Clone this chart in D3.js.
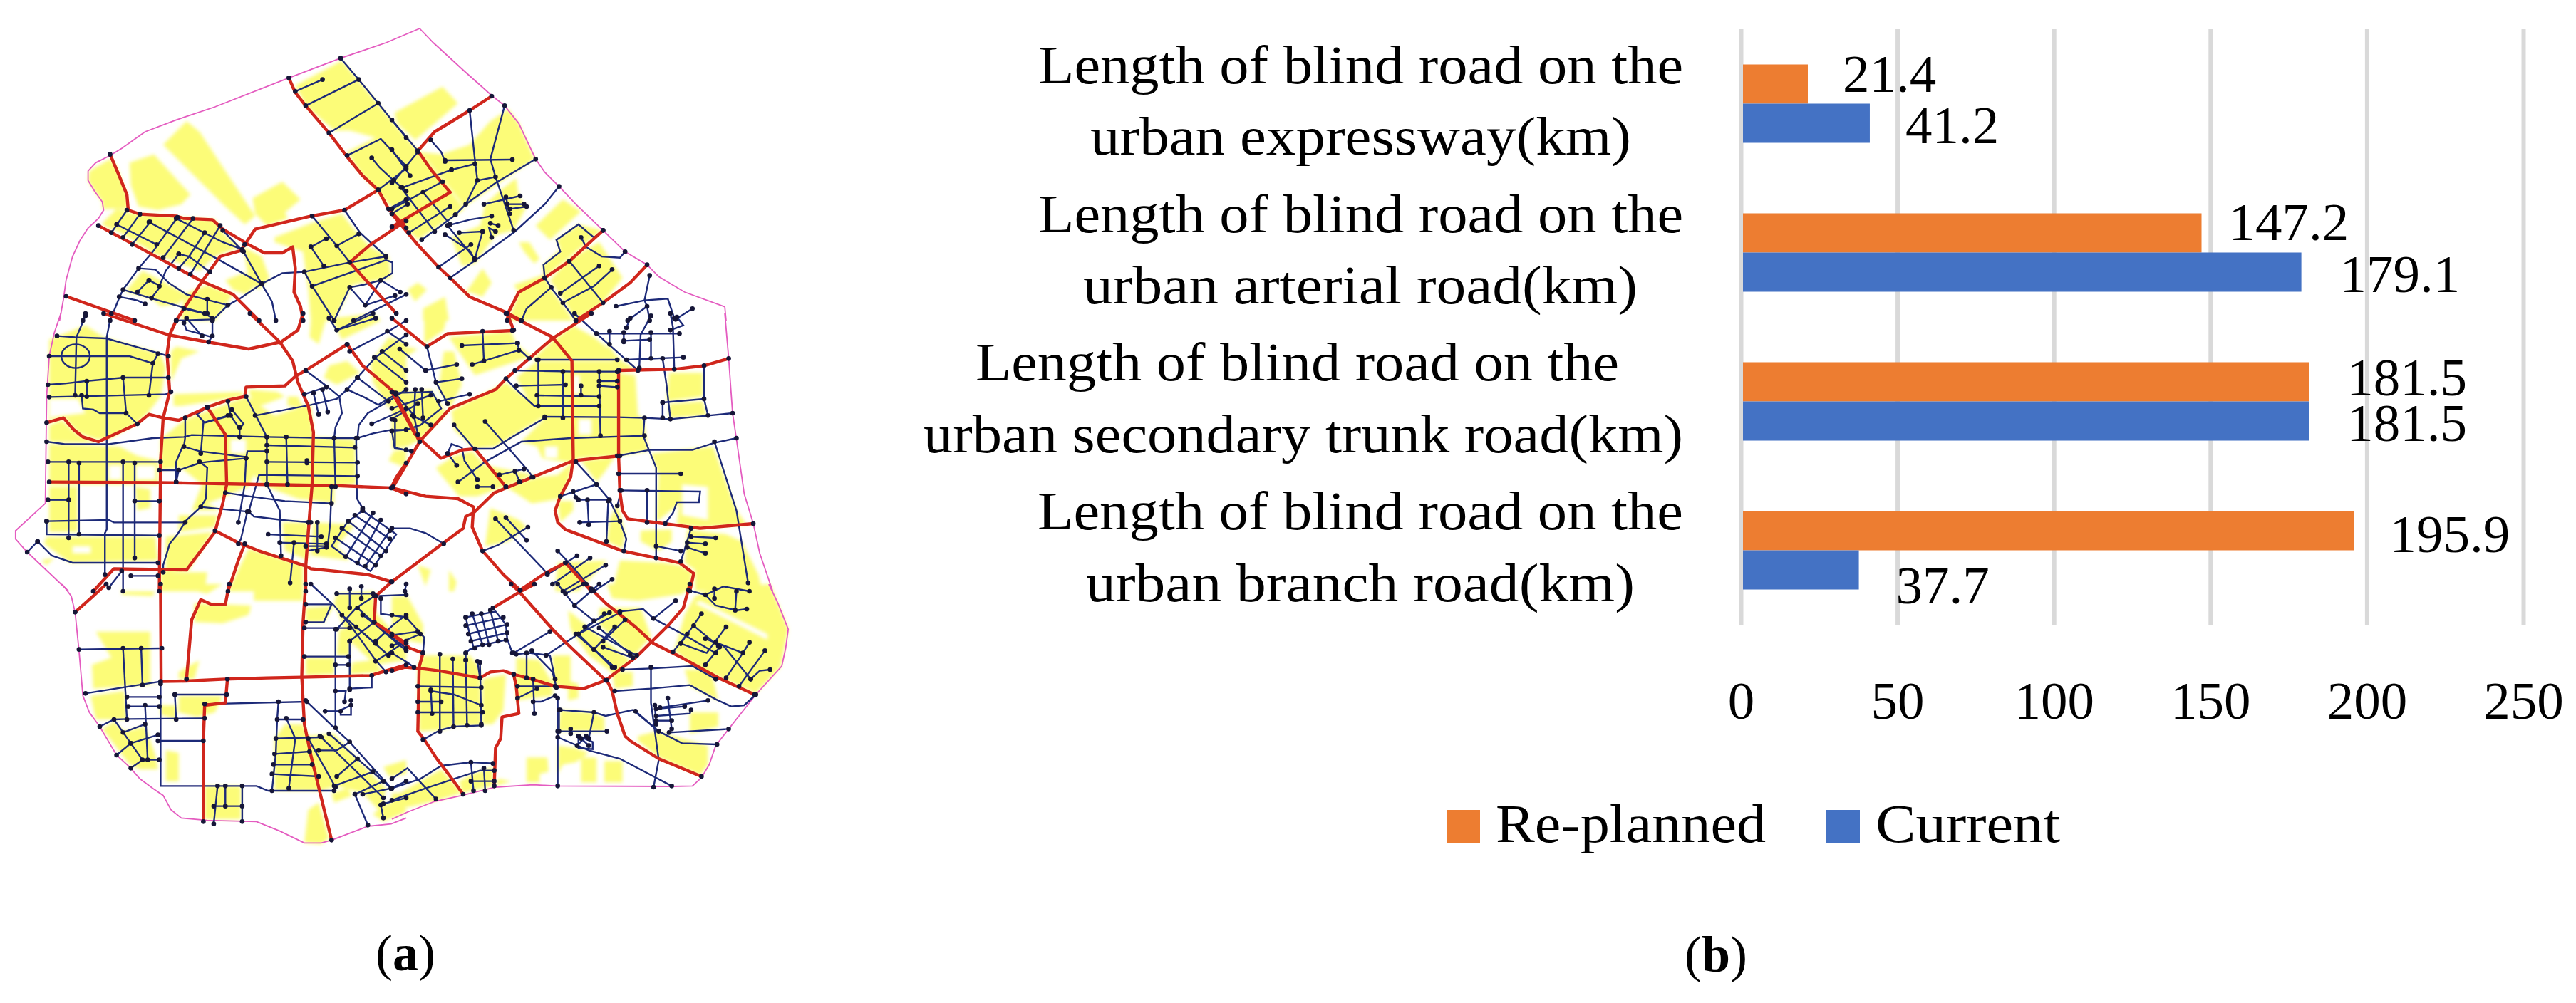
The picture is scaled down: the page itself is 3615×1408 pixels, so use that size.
<!DOCTYPE html>
<html>
<head>
<meta charset="utf-8">
<script src="https://cdn.jsdelivr.net/npm/d3@7"></script>
<style>
  html, body { margin: 0; background: #fff; }
  text { font-family: "Liberation Serif", serif; fill: #000; }
</style>
</head>
<body>
<div id="chart"></div>
<script>
// ---- panel (b) values ----
const categories = ['expressway', 'arterial', 'secondary', 'branch'];
const categoryLines = [
    ['Length of blind road on the', 'urban expressway(km)'],
    ['Length of blind road on the', 'urban arterial road(km)'],
    ['Length of blind road on the', 'urban secondary trunk road(km)'],
    ['Length of blind road on the', 'urban branch road(km)']
];
const seriesNames = ['Re-planned', 'Current'];
const seriesColors = ['#ED7D31', '#4472C4'];
const replanned = [21.4, 147.2, 181.5, 195.9];
const current = [41.2, 179.1, 181.5, 37.7];
const xTicks = [0, 50, 100, 150, 200, 250];

// ---- panel (a) map, traced per crop sheet: 570x390 px of the picture = 1568x1170 sheet units ----
const nwBoundary = ['1620,-60 1490,0 1315,65 1115,148 830,270 680,325 560,375 470,445 425,475 370,505 340,540 340,580 365,625 395,670 400,705 380,740 340,780 310,830 280,900 255,1000 245,1080 230,1170'];
const nwYellow = [
    '345,540 425,490 450,520 490,640 495,700 395,700 395,670 365,625 340,580',
    '395,760 450,700 490,710 440,790 400,770',
    '500,505 595,470 735,640 700,680 610,705 535,690 505,600',
    '630,430 720,330 770,375 985,730 945,765 870,690',
    '975,655 1090,585 1160,660 1100,715 1110,740 1030,770 985,720',
    '420,770 490,715 690,735 830,745 860,800 925,860 830,900 770,960 600,890',
    '940,860 1010,900 1040,990 1000,1040 960,1000',
    '870,1000 940,970 1000,1010 950,1060 900,1040',
    '490,1040 550,960 620,1000 720,1060 690,1100 620,1110 590,1080 490,1050',
    '710,1060 800,1020 900,1060 830,1170 700,1170',
    '1060,820 1200,760 1320,720 1370,790 1430,860 1500,900 1510,990 1360,1020 1290,1170 1200,1170 1190,1040 1170,880 1060,840',
    '1140,180 1320,75 1568,400 1568,760 1450,620 1380,530 1340,460 1450,400 1350,370 1290,370 1180,265'
];
const nwRed = [
    '425,470 460,560 490,640 495,705 540,722 680,730 710,740 820,745 860,785 960,850 1020,885 1090,885 1130,860 1140,950 1135,1050 1160,1110 1170,1170',
    '380,770 610,905 780,1005 900,1060 1000,1170',
    '1115,148 1140,210 1180,265 1270,380 1340,480 1400,560 1460,620 1500,700 1568,780',
    '945,850 985,785 1200,730 1330,705 1460,620',
    '945,850 930,875 850,900 780,1005 710,1120 680,1170',
    '255,1068 520,1170',
    '1568,750 1430,850 1350,925 1530,1140'
];
const nwBlue = [
    '1140,205 1245,155', '1180,265 1385,155', '1270,380 1460,255', '1315,65 1385,155 1460,255 1568,400',
    '1340,475 1470,405 1568,520', '1435,485 1465,525 1520,580', '1460,620 1568,530', '1500,700 1568,660', '1520,580 1568,625',
    '490,705 430,800', '540,722 475,820', '580,755 510,850', '450,765 605,850', '575,755 830,905 1010,1015',
    '680,740 860,840 935,870', '685,735 590,880 535,950 475,1040 460,1075 425,1170', '745,740 630,905',
    '790,800 730,900 690,950', '850,770 735,975', '860,790 935,875', '690,890 640,960 615,1025',
    '535,950 600,955 650,1010 720,1060 880,1105', '690,890 730,900 810,965', '475,1040 580,1075 790,1140',
    '460,1070 530,1085 560,1100', '575,1000 620,1025 585,1075', '575,1000 530,1050', '1010,1015 940,880',
    '1010,1015 1050,1090 1065,1170', '1010,1015 930,1075 880,1105 820,1170',
    '1010,1015 1090,970 1175,965 1350,925 1490,900', '1175,965 1205,1025 1290,1170',
    '1205,1025 1490,915 1515,925 1515,970 1470,1000', '1200,860 1250,940', '1200,860 1260,825',
    '1205,730 1300,855 1350,925', '1330,705 1390,800 1490,900', '1300,855 1385,805',
    '1290,1170 1350,1030 1410,1105 1470,1000 1545,1050', '1350,1030 1400,1020 1470,1000', '1410,1105 1525,1065',
    '1365,1170 1568,1060', '800,1080 800,1140', '710,1120 790,1140 820,1160', '330,1140 320,1170'
];

const neBoundary = ['107,-60 160,0 280,120 385,222 435,265 490,340 520,410 555,490 590,545 645,605 710,680 815,790 900,880 985,935 1030,985 1130,1050 1285,1112 1290,1170'];
const neYellow = [
    '10,295 195,185 255,255 90,410 20,340',
    '0,340 100,450 230,630 280,700 240,730 100,830 0,720',
    '190,470 300,430 380,330 450,280 490,340 550,490 280,690 230,620 110,460',
    '360,680 420,620 480,570 490,650 520,690 470,790 400,810 340,900 320,930 270,940 230,820 340,770',
    '555,770 660,660 730,710 610,830',
    '490,840 530,840 570,910 550,930 510,880',
    '635,830 720,765 810,790 590,990 580,940 650,870',
    '680,915 800,840 890,990 810,1100 710,1170 660,1080 610,1000',
    '470,1020 590,975 610,1030 670,1120 700,1170 450,1170 490,1050',
    '280,1060 350,950 385,1010 350,1070 300,1050',
    '60,1040 100,1010 135,1040 90,1090',
    '120,1120 205,1070 220,1170 120,1170'
];
const neRed = [
    '385,225 300,285 165,375 100,455 155,540 225,630 0,775',
    '0,720 95,845 180,945 225,990 300,1070 440,1135 500,1170',
    '985,935 920,1010 815,1095 710,1170',
    '815,790 685,920 590,990 490,1050 450,1135 445,1170'
];
const neBlue = [
    '0,325 100,455', '300,285 320,490 330,580 285,680', '435,265 380,490 400,565 470,790',
    '150,410 190,460 205,500', '205,495 465,492', '230,535 320,510', '330,580 400,565',
    '555,490 400,590 285,680 245,725', '645,605 590,680 475,795 350,895 225,990', '0,450 70,560',
    '100,460 10,580 0,590', '230,535 40,610', '195,585 0,700', '35,610 105,710 165,795', '120,630 225,765',
    '225,690 65,800', '245,725 115,830', '60,680 0,720', '215,770 300,745 385,730', '215,770 320,910',
    '260,800 350,795', '350,795 320,910', '205,808 300,875 320,915', '180,945 305,850',
    '355,680 495,645', '440,650 455,720', '445,680 510,680', '455,700 520,690', '385,820 375,780 400,795', '380,760 410,770',
    '815,790 780,820 720,765 635,830 650,880 585,935 590,990', '730,820 750,860 810,900 880,905 900,880',
    '685,920 815,1095', '615,1030 520,1120 500,1170', '590,990 620,1040 660,1095 710,1170', '650,1055 800,940',
    '660,1095 780,1025 850,955', '995,980 975,1085 985,1110 995,1170', '865,1110 975,1085 1065,1078 1090,1160',
    '985,1110 910,1170', '1095,1165 1160,1120'
];

const wBoundary = ['265,1170 105,1005 60,950 60,915 110,865 175,800 180,350 190,180 210,80 235,0'];
const wYellow = [
    '190,110 330,50 400,100 620,170 640,230 620,350 570,420 530,460 420,530 370,530 300,500 250,440 190,450',
    '190,470 240,450 300,510 370,545 190,540',
    '190,550 460,560 530,600 610,620 610,720 190,720',
    '190,730 300,730 300,920 190,920',
    '520,730 580,740 580,820 530,830',
    '180,940 600,940 610,1040 270,1050 170,970',
    '160,1040 210,1030 180,1060',
    '620,530 710,450 780,420 950,350 1060,430 1200,380 1210,520 1370,530 1375,720 1290,730 1290,800 1150,780 1030,730 980,680 960,730 800,800 850,830 740,830 780,720 700,650 620,660',
    '1200,30 1250,0 1265,0 1230,130 1195,100',
    '680,140 770,160 700,190 660,290 660,160',
    '670,340 940,330 930,350 700,390 670,390',
    '960,320 1070,330 1100,350 980,400',
    '1110,350 1150,350 1170,400 1110,390',
    '1280,20 1440,0 1470,30 1320,110',
    '1270,220 1340,200 1390,250 1300,300 1250,270',
    '1430,210 1500,100 1568,120 1568,330 1500,400 1440,290',
    '1090,880 1190,880 1190,1040 1100,1000',
    '1210,880 1370,890 1300,980 1350,1040 1200,1020',
    '640,940 820,920 730,1080 640,1090',
    '690,850 840,850 830,900 690,920',
    '960,990 1170,1060 1170,1170 880,1170',
    '620,1090 800,1090 790,1170 620,1170',
    '1520,580 1568,570 1568,650 1500,620'
];
const wWhite = [
    '190,360 300,360 330,420 250,430 190,440',
    '420,640 470,640 470,700 420,700',
    '525,640 600,640 600,700 525,700',
    '310,740 410,740 410,870 310,870',
    '280,980 350,980 350,1010 280,1010',
    '430,1110 610,1110 610,1170 470,1170',
    '890,530 950,530 950,590 890,590'
];
const wRed = [
    '180,460 245,440 285,490 320,520 380,540 530,465 575,425 630,440 690,450 800,395 880,365 945,350 950,310 1100,305 1140,265 1180,240 1340,130',
    '1340,130 1400,220 1460,275 1520,330 1620,540',
    '190,710 610,712 1000,720 1290,725 1510,735 1568,760',
    '400,0 650,90 800,120 960,150 1085,120 1150,70 1170,0',
    '680,30 655,90 645,170 655,330 630,440 620,620 615,1170',
    '800,395 870,510 875,720 860,800 830,920 720,1080 440,1075 360,1170',
    '830,915 920,965 1000,1000 1170,1060 1200,1075 1420,1100 1510,1130',
    '945,970 920,1040 880,1170',
    '1510,735 1530,690 1568,630',
    '965,0 1080,120 1130,200 1150,290 1190,390 1210,500 1205,720 1195,850 1180,1070 1180,1170'
];
const wBlue = [
    '220,95 290,100 410,105 620,170 650,180', '330,10 295,100 290,345', '190,180 500,180 590,210 575,345',
    '430,0 412,100 412,910 405,925 405,1100', '590,210 610,170', '185,300 250,295 330,285 480,270 650,270',
    '475,270 487,420 530,465', '190,352 290,350 640,340 660,330', '335,285 335,350', '315,345 320,400 360,405 385,420 487,420',
    '180,540 250,550 420,550 490,540 590,525 710,520 740,512 1030,520 1290,525 1380,525 1440,505 1510,490 1568,490',
    '185,625 620,625', '265,625 265,945', '305,630 305,930', '475,625 475,1170', '520,630 520,1030', '185,785 265,785',
    '180,875 420,870 440,880 715,880', '180,875 180,930 615,935', '145,960 105,1005', '145,960 200,1020 280,1050 610,1050',
    '520,790 615,790', '505,1105 610,1105', '470,1085 420,1155', '615,660 690,660 770,630 800,625 950,610', '690,660 680,710',
    '680,710 680,625 705,560 770,580 950,605 945,720 920,880', '770,625 800,650 795,780 775,815 720,870 685,930 655,970 630,1060 630,1090',
    '775,815 960,835', '955,835 930,950 920,970', '960,835 1000,680 1380,685', '1030,555 1370,565', '1030,520 1030,720',
    '1030,580 955,580 950,610', '1105,520 1110,720', '1030,625 1380,628', '1185,620 1185,630', '1290,525 1295,730',
    '1375,525 1378,780 1400,820', '1030,720 1080,830 1085,1020', '870,755 960,770 1100,790 1280,800',
    '1280,730 1275,880 1265,980 1180,980', '960,835 980,855 1090,870 1200,880', '1035,930 1240,940', '1080,965 1260,970',
    '1135,965 1120,1135', '1190,880 1185,1000 1260,985', '1225,880 1225,1000',
    '1400,830 1530,930 1430,1085 1330,1020 1280,980 1340,880 1400,830', '1370,850 1505,950', '1345,875 1490,1000',
    '1320,905 1470,1020', '1295,945 1450,1060', '1440,840 1335,1025', '1470,870 1380,1050', '1505,915 1410,1065',
    '1300,70 1440,0', '1350,160 1500,75 1568,30', '1380,270 1450,185 1568,90',
    '1180,240 1260,305 1310,350 1320,420 1295,480 1290,525', '1175,340 1260,310', '1230,425 1210,335', '1265,415 1245,320',
    '950,350 1030,520', '985,430 1200,385 1300,360 1340,320 1380,270', '1340,320 1410,355 1460,385 1530,340',
    '1380,270 1500,370', '1445,185 1568,290', '1475,160 1568,240', '1495,75 1568,130',
    '1380,525 1385,470 1420,420 1500,370 1568,320', '1435,465 1530,420 1568,400', '1525,450 1525,570 1568,575',
    '800,395 760,425 790,460 890,430 880,370', '880,430 785,460 775,590', '715,440 715,520 710,560',
    '895,405 940,465 925,485 890,430', '925,480 925,520', '710,40 720,70 820,100 820,30', '680,30 820,25', '720,20 780,95', '805,120 820,95',
    '1270,20 1300,70 1450,20'
];
// ring road at the west side: centre x, centre y, radius x, radius y (sheet units)
const wRings = [[292, 180, 55, 50]];

const eBoundary = ['1285,0 1300,190 1315,420 1330,530 1360,760 1395,885 1420,1010 1470,1170'];
const eYellow = [
    '125,0 215,0 200,70 125,130', '200,160 240,160 270,300 225,400 180,320', '0,130 100,150 0,220',
    '220,100 460,75 480,130 540,180 320,260 270,180', '0,340 150,320 210,420 110,530 60,560 0,570',
    '700,50 780,100 860,170 880,195 540,195 620,115', '820,100 870,190 950,240 870,240',
    '230,410 440,290 560,390 660,440 580,440 400,560 320,570 240,490',
    '480,270 560,200 870,200 870,250 940,260 950,430 970,440 990,580 870,600 720,610 700,630 640,620 580,610 560,560 500,540 590,440 540,390',
    '1070,250 1200,250 1200,350 1060,370', '1070,380 1200,370 1215,430 1070,440',
    '1000,590 1160,570 1240,560 1330,830 1370,890 1190,900 1100,890 1110,800 1020,880 1030,680',
    '730,620 860,605 820,670 790,710', '640,680 700,620 680,710 650,780 540,800 470,750 440,730 560,690',
    '170,650 240,600 310,580 360,640 550,680 430,730 330,770 260,770 190,680',
    '870,800 900,930 890,990 830,960 840,870', '640,790 700,790 700,830 650,880',
    '960,915 1080,910 1080,960 1030,1000 960,960',
    '1140,910 1290,930 1350,960 1415,1100 1430,1170 1170,1170 1170,1080 1130,1050',
    '880,1040 1050,1050 1110,1060 1160,1090 1150,1170 850,1170', '640,1050 830,1040 720,1170 630,1170',
    '220,1080 250,1130 240,1170 220,1170', '100,1060 150,1080 130,1150', '380,820 490,870 520,900 450,960 360,980'
];
const eWhite = [
    '720,445 770,445 770,510 720,510', '590,560 640,560 640,610 590,610', '1120,720 1220,730 1220,870 1120,850',
    '700,260 725,260 725,340 700,340'
];
const eRed = [
    '0,20 135,140 215,85 465,72', '445,0 470,70',
    '440,0 620,100 695,200 700,610 690,690 650,770 630,830 640,880 670,910 890,1000 1110,1050 1165,1095 1150,1170',
    '770,0 620,105 440,275 400,320 225,400 110,535 5,730',
    '0,1130 200,965 275,905 285,855 315,840 395,755 700,620 880,600',
    '0,735 130,770 255,780 315,815 310,900 350,1000 430,1100 495,1165',
    '875,240 875,600 880,750 890,830 910,865 1050,885 1190,905 1395,885',
    '875,240 1090,235 1205,220 1300,190',
    '0,330 90,510 190,610 270,575 320,570 440,730',
    '495,1165 590,1095 670,1050', '670,1050 770,1170'
];
const eBlue = [
    '270,135 485,125', '350,75 355,200', '485,125 490,150 530,190', '310,215 490,155', '135,140 170,290 215,380',
    '130,240 250,215', '130,240 30,150', '170,290 270,275', '180,370 300,340',
    '15,335 155,330 190,400 110,470 55,490 0,495', '0,400 150,345', '0,445 100,380', '90,320 85,435', '115,320 120,440',
    '80,430 150,470', '0,495 10,565 75,580', '15,340 85,430 100,510', '240,470 360,625 440,730', '360,455 520,655 545,690',
    '255,710 360,625 500,540 690,525 975,515', '320,570 390,570 465,520 590,440',
    '590,435 870,437 975,440 1075,445 1220,430 1315,420', '440,275 480,320 550,390 800,390', '475,240 700,245 870,245',
    '565,195 565,390', '560,195 870,195', '660,245 660,440', '480,305 670,300', '560,345 800,350', '800,245 805,515',
    '730,305 730,345', '800,305 870,310', '800,285 870,285', '705,0 790,85 950,240', '790,85 1110,85', '840,75 840,130',
    '895,115 995,110', '895,80 895,120', '955,230 960,90 1000,10', '905,60 920,20', '1000,80 1000,190', '905,195 1125,185',
    '1045,190 1060,300 1075,445', '1090,235 1085,60 1075,0', '1075,70 1125,50 1100,15', '1205,220 1205,360 1220,430',
    '1045,375 1205,360', '1045,375 1045,440', '975,440 970,515 1020,650 1020,1030',
    '870,600 995,575 1160,575 1245,545 1330,525', '1245,540 1330,830 1375,1135', '875,675 1115,675',
    '880,745 1190,750 1185,795 1100,795 1085,840 1055,885', '985,745 985,880',
    '710,625 790,720 840,785 880,875 905,950 895,1000', '650,770 790,720', '700,750 710,775', '720,785 840,785',
    '755,785 760,890', '725,880 880,875', '835,790 828,960', '870,810 885,745', '1155,905 1115,1045', '1155,940 1250,945',
    '1140,965 1210,970', '1140,985 1210,1010', '1020,980 1115,1000', '400,865 600,1095', '440,860 520,955',
    '350,1000 410,975 525,900', '0,905 70,905 130,925 200,970', '640,1000 700,1070 770,1160', '715,1020 600,1100',
    '765,1030 620,1140', '825,1060 660,1170', '850,1120 780,1170', '540,690 490,710', '415,680 510,655', '475,665 495,710',
    '330,730 390,730', '215,590 230,550 270,565 280,620 330,700', '215,590 250,640', '55,1140 50,1170'
];

const swBoundary = ['1568,985 1510,1010 1420,1020 1280,1078 1240,1090 1175,1090 1080,1040 990,1000 800,995 700,985 660,950 630,890 590,860 540,820 500,770 450,720 385,600 345,540 320,470 305,280 290,120 275,50 240,0'];
const swYellow = [
    '470,0 600,20 590,50 470,45', '640,0 860,0 800,40', '980,0 1170,0 1170,70 980,70', '750,80 970,90 960,130 860,165 750,160',
    '690,370 770,320 750,400 690,400', '370,200 580,200 580,420 620,420 360,440 355,340 430,310', '350,470 480,450 490,570 370,570',
    '620,510 680,510 680,570 620,550', '690,470 860,470 830,540 760,560 690,540',
    '395,610 440,580 480,620 560,600 600,720 610,780 540,780 500,760', '640,700 690,710 690,830 640,830',
    '790,850 930,850 930,990 790,990',
    '1060,650 1100,590 1170,590 1190,640 1290,630 1380,740 1490,860 1470,960 1400,880 1300,850 1240,870 1060,870',
    '1190,950 1230,920 1270,1070 1240,1095 1175,1090', '1280,880 1340,860 1360,890 1290,920',
    '1440,970 1480,930 1560,900 1568,960 1480,1000', '1180,100 1290,90 1250,160 1180,160', '1180,310 1290,310 1290,380 1180,385',
    '1310,190 1350,190 1350,300 1300,300', '1290,80 1300,40 1440,30 1450,120 1568,260 1568,320 1450,340 1350,240',
    '1360,330 1440,320 1480,370 1350,380', '1480,770 1568,740 1568,800 1500,810'
];
const swRed = [
    '620,0 622,410 718,408 870,400 1030,395 1165,392 1430,385 1490,365 1568,340',
    '885,0 870,85 815,85 775,65 740,150 720,400',
    '1180,0 1170,160 1165,390 1175,590 1200,720 1280,1078',
    '290,118 360,50 410,0',
    '1512,-9 1450,50 1445,160 1568,250',
    '785,1000 785,660 790,510 870,500 878,400'
];
const swBlue = [
    '305,275 625,270', '475,270 490,570', '545,270 550,425', '330,460 620,410', '490,475 615,475', '495,515 615,515',
    '560,510 570,740', '385,600 440,570 495,568 790,565', '675,465 875,465', '675,465 680,570', '790,505 1185,495',
    '620,420 620,850 720,850 990,850 1035,870 1290,870', '610,660 785,660', '440,570 505,670 550,740 615,740', '475,625 560,590',
    '505,670 610,635', '450,720 505,670', '505,775 550,740', '1180,490 1290,605 1350,665 1510,860', '1295,190 1295,605',
    '1180,85 1280,85 1250,160 1180,160', '1175,185 1350,185', '1175,305 1345,305', '1295,340 1345,340', '1350,240 1350,445',
    '1295,450 1335,450 1330,495', '1350,440 1435,435 1435,385', '1355,490 1355,510 1315,530 1315,550 1355,550 1355,510',
    '1255,535 1315,535', '1075,495 1070,570 1065,710 1050,870', '1070,570 1170,570', '1105,565 1140,650 1115,860',
    '1065,650 1240,645', '1060,715 1195,705', '1055,760 1205,760', '1050,800 1230,810', '840,850 825,1010', '870,850 870,935',
    '935,850 935,1000', '825,935 935,935', '1420,1015 1370,885', '1270,630 1510,860', '1235,640 1480,900', '1190,650 1295,855',
    '1350,665 1300,700 1230,700', '1380,735 1300,810', '1440,790 1340,830 1290,850', '1480,830 1370,885', '1510,860 1400,885',
    '1470,930 1480,985', '1480,925 1568,900', '1510,860 1568,830', '1300,190 1375,100 1445,50', '1380,100 1480,200 1568,280',
    '1200,0 1290,90 1350,170 1450,320 1490,370', '1300,40 1440,40', '1350,20 1350,100', '1395,10 1395,60', '1350,240 1445,160',
    '1450,240 1520,170 1568,130', '1450,325 1568,240', '1375,180 1500,300', '1320,130 1450,250', '1400,130 1568,270',
    '1470,60 1470,125 1568,140', '1450,50 1568,45'
];

const seBoundary = ['1455,0 1490,80 1530,190 1520,270 1505,345 1405,465 1300,610 1250,680 1225,760 1195,815 1160,850 1080,852 640,850 545,845 400,855 270,890 165,915 60,960 0,990'];
const seYellow = [
    '830,0 1100,0 1130,40 950,70 850,60', '115,300 190,300 300,300 340,350 345,595 240,600 185,615 105,620 100,350',
    '350,400 440,380 430,530 390,590 350,590', '480,310 570,320 620,420 620,470 480,490',
    '620,300 690,300 690,410 720,420 720,480 680,490 680,440 620,420', '650,530 770,540 820,560 820,620 640,620',
    '30,880 190,780 270,880 160,915 60,940 0,930 0,880', '270,880 390,850 390,770 310,800 260,830', '410,820 460,830 400,850',
    '520,730 600,730 605,790 570,800 570,835 520,835', '730,730 790,730 790,835 730,835', '820,745 890,745 890,835 820,835',
    '640,680 710,690 760,710 710,750 660,760 640,800', '950,640 1020,620 1220,680 1220,760 1190,805 1030,730 950,660',
    '1130,360 1230,360 1260,490 1150,430', '1150,540 1260,540 1260,600 1150,630', '850,370 930,370 930,430 860,440',
    '1240,20 1460,0 1530,190 1500,350 1405,460 1160,340 1090,280 1130,130 1170,50',
    '680,110 780,200 920,320 860,380 760,300 690,190', '800,100 960,100 1000,220 930,310 800,170',
    '0,50 60,50 120,170 120,250 30,230 0,200'
];
const seWhite = ['1170,80 1190,70 1450,210 1450,235'];
const seRed = [
    '0,365 50,350 110,355 180,365 340,395 380,370 430,365 470,380 540,400 630,430 740,440 825,405 940,310 1070,170 1125,100 1150,0',
    '460,0 490,30 620,190 670,245 825,405', '550,0 490,35 390,100',
    '750,0 830,85 940,180 1010,250 1120,310 1270,400 1400,465',
    '830,405 850,450 870,545 900,640 920,660 1030,735 1195,810',
    '120,290 105,350 100,620 125,655 170,730 225,810 275,885',
    '470,380 480,430 490,545 425,560 420,650 400,690 395,850',
    '0,210 70,270 120,290'
];
const seBlue = [
    '285,140 400,115 440,170 445,230 465,290', '285,140 300,210 315,265 440,235', '285,175 430,140', '295,210 445,170', '305,240 445,205',
    '310,125 350,255', '345,125 375,255', '380,110 410,240', '285,290 300,275 320,270', '330,325 340,395', '285,290 285,320',
    '185,295 185,620', '235,315 238,600', '285,320 290,595', '340,330 345,590', '100,430 345,435', '100,495 190,495', '100,540 350,540',
    '150,445 155,545', '150,450 240,465 345,510', '120,655 185,615 240,600 345,595', '0,130 55,140 125,225 120,290',
    '0,215 100,200', '0,260 110,210', '0,290 60,330 85,350', '470,290 610,200', '595,300 720,210 820,125', '720,210 850,350',
    '480,295 530,290 610,300 630,400', '520,290 520,395', '540,280 620,370 635,435', '640,480 640,850', '640,620 830,620',
    '650,530 780,540 825,555 930,530 1030,620 1120,670 1255,675', '645,530 645,620', '780,540 760,650',
    '640,645 760,700 880,735 1080,850', '690,610 690,630', '720,640 775,665 775,695 720,690 720,640', '730,650 760,680', '715,680 750,640',
    '545,400 550,545', '545,495 575,495 630,470', '485,430 630,430', '485,480 560,440', '1000,350 1000,500 1030,740 1010,855',
    '860,450 1000,440 1150,425 1250,485 1310,515 1360,510 1405,465', '890,360 1000,355 1160,345 1250,400', '1035,520 1220,490',
    '1015,510 1020,590', '1065,480 1080,610', '1020,525 1130,515', '1020,555 1150,545 1155,530', '1020,575 1080,575',
    '940,535 1030,620', '1070,625 1300,610', '880,115 970,105 1010,145 1095,70', '1010,145 1130,215 1250,290', '1115,250 1195,125',
    '1165,175 1260,260', '1115,250 1215,290 1290,180', '1210,230 1280,260 1385,400', '1250,245 1355,290 1380,245', '1085,285 1140,210',
    '1210,340 1265,265', '1290,395 1355,290', '1340,430 1440,280', '1385,400 1420,365 1460,360', '1145,25 1210,45 1250,90 1330,110 1370,105',
    '1210,45 1280,10 1380,30', '1330,30 1325,110', '1245,20 1245,60', '720,210 880,120', '745,180 840,120', '745,180 945,300', '800,185 920,295',
    '780,275 860,180', '815,240 900,150', '780,275 860,350', '710,210 860,350', '815,265 930,310', '640,0 705,90 780,155', '670,40 740,0',
    '705,90 800,0', '0,820 60,775 170,905', '0,860 110,820 190,765 305,750 390,755', '0,910 130,860 240,820 340,785 395,785',
    '305,750 315,870', '355,775 360,870', '305,830 395,830'
];

const mapTiles = [
    { x: 0, y: 60, boundary: nwBoundary, yellow: nwYellow, white: [], red: nwRed, blue: nwBlue, rings: [] },
    { x: 550, y: 60, boundary: neBoundary, yellow: neYellow, white: [], red: neRed, blue: neBlue, rings: [] },
    { x: 0, y: 440, boundary: wBoundary, yellow: wYellow, white: wWhite, red: wRed, blue: wBlue, rings: wRings },
    { x: 550, y: 440, boundary: eBoundary, yellow: eYellow, white: eWhite, red: eRed, blue: eBlue, rings: [] },
    { x: 0, y: 820, boundary: swBoundary, yellow: swYellow, white: [], red: swRed, blue: swBlue, rings: [] },
    { x: 550, y: 820, boundary: seBoundary, yellow: seYellow, white: seWhite, red: seRed, blue: seBlue, rings: [] }
];

const svg = d3.select('#chart').append('svg')
    .attr('width', 3615)
    .attr('height', 1408)
    .style('display', 'block');

const defs = svg.append('defs');
defs.append('filter').attr('id', 'soft').append('feGaussianBlur').attr('stdDeviation', 0.7);
defs.append('filter').attr('id', 'softer').append('feGaussianBlur').attr('stdDeviation', 2.5);

// ---- panel (a) ----
const parsePoints = s => s.split(' ').map(p => p.split(',').map(Number));

const areaLayer = svg.append('g').attr('filter', 'url(#softer)');
const whiteLayer = svg.append('g').attr('filter', 'url(#softer)');
const pinkLayer = svg.append('g').attr('filter', 'url(#soft)');
const blueLayer = svg.append('g').attr('filter', 'url(#soft)');
const redLayer = svg.append('g').attr('filter', 'url(#soft)');
const nodeLayer = svg.append('g').attr('filter', 'url(#soft)');

mapTiles.forEach(tile => {
    const sx = d3.scaleLinear().domain([0, 1568]).range([tile.x, tile.x + 570]);
    const sy = d3.scaleLinear().domain([0, 1170]).range([tile.y, tile.y + 390]);
    const path = d3.line().x(d => sx(d[0])).y(d => sy(d[1]));

    areaLayer.selectAll(null).data(tile.yellow.map(parsePoints)).enter().append('path')
        .attr('d', d => path(d) + 'Z')
        .attr('fill', '#FCFC78');

    whiteLayer.selectAll(null).data(tile.white.map(parsePoints)).enter().append('path')
        .attr('d', d => path(d) + 'Z')
        .attr('fill', '#fff');

    pinkLayer.selectAll(null).data(tile.boundary.map(parsePoints)).enter().append('path')
        .attr('d', path)
        .attr('fill', 'none')
        .attr('stroke', '#E45CC0')
        .attr('stroke-width', 1.8);

    blueLayer.selectAll(null).data(tile.blue.map(parsePoints)).enter().append('path')
        .attr('d', path)
        .attr('fill', 'none')
        .attr('stroke', '#1F2A78')
        .attr('stroke-width', 2.4);

    blueLayer.selectAll(null).data(tile.rings).enter().append('ellipse')
        .attr('cx', d => sx(d[0]))
        .attr('cy', d => sy(d[1]))
        .attr('rx', d => sx(d[2]) - sx(0))
        .attr('ry', d => sy(d[3]) - sy(0))
        .attr('fill', 'none')
        .attr('stroke', '#1F2A78')
        .attr('stroke-width', 2.4);

    redLayer.selectAll(null).data(tile.red.map(parsePoints)).enter().append('path')
        .attr('d', path)
        .attr('fill', 'none')
        .attr('stroke', '#D0261C')
        .attr('stroke-width', 4.4)
        .attr('stroke-linejoin', 'round');

    // dead ends and junctions carry a node
    const nodes = [];
    tile.blue.concat(tile.red).map(parsePoints).forEach(line => {
        nodes.push(line[0], line[line.length - 1]);
    });
    nodeLayer.selectAll(null).data(nodes).enter().append('circle')
        .attr('cx', d => sx(d[0]))
        .attr('cy', d => sy(d[1]))
        .attr('r', 3.3)
        .attr('fill', '#141838');
});

svg.append('text')
    .attr('x', 527).attr('y', 1362)
    .style('font-size', '72px')
    .html('(<tspan font-weight="bold">a</tspan>)');

// ---- panel (b) ----
const x = d3.scaleLinear().domain([0, 250]).range([2443, 3541]);
const y = d3.scaleBand().domain(categories).range([41, 877]).paddingInner(0.4737).paddingOuter(0.2368);
const ySeries = d3.scaleBand().domain(seriesNames).range([0, y.bandwidth()]);

const axis = svg.append('g')
    .attr('transform', 'translate(0,877)')
    .call(d3.axisBottom(x).tickValues(xTicks).tickSizeInner(-836).tickSizeOuter(0).tickPadding(79));
axis.select('.domain').remove();
axis.selectAll('line').attr('stroke', '#D9D9D9').attr('stroke-width', 6);
axis.selectAll('text')
    .attr('font-family', null)
    .style('font-size', '75px');

// reading order of the label lines, as measured extents
const labelLeft = [1457, 1530, 1457, 1520, 1369, 1296, 1456, 1524];
const labelWidth = [905, 759, 905, 778, 903, 1066, 906, 770];
const labelBase = [117, 217, 326, 426, 534, 635, 743, 844];
svg.append('g').selectAll('text').data(categoryLines.flat()).enter().append('text')
    .attr('x', (d, i) => labelLeft[i])
    .attr('y', (d, i) => labelBase[i])
    .attr('textLength', (d, i) => labelWidth[i])
    .attr('lengthAdjust', 'spacingAndGlyphs')
    .style('font-size', '76px')
    .text(d => d);

const rows = categories.flatMap((c, i) => [
    { c, s: seriesNames[0], v: replanned[i], color: seriesColors[0] },
    { c, s: seriesNames[1], v: current[i], color: seriesColors[1] }
]);

svg.append('g').selectAll('rect').data(rows).enter().append('rect')
    .attr('x', x(0) + 3)
    .attr('y', d => y(d.c) + ySeries(d.s))
    .attr('width', d => x(d.v) - x(0) - 3)
    .attr('height', ySeries.bandwidth())
    .attr('fill', d => d.color);

// data labels sit where they were dragged to in the source chart
const labelDx = [49, 50, 38, 54, 53, 53, 50, 52];
const labelDy = [11, 28, 10, 28, 19, 28, 30, 47];
svg.append('g').selectAll('text').data(rows).enter().append('text')
    .attr('x', (d, i) => x(d.v) + labelDx[i])
    .attr('y', (d, i) => y(d.c) + ySeries(d.s) + ySeries.bandwidth() / 2 + labelDy[i])
    .style('font-size', '75px')
    .text(d => d.v.toFixed(1));

// legend
const legendSwatch = [2030, 2563];
const legendText = [2099, 2632];
const legendWidth = [379, 259];
const legend = svg.append('g').selectAll('g').data(seriesNames).enter().append('g');
legend.append('rect')
    .attr('x', (d, i) => legendSwatch[i])
    .attr('y', 1137)
    .attr('width', 47)
    .attr('height', 46)
    .attr('fill', (d, i) => seriesColors[i]);
legend.append('text')
    .attr('x', (d, i) => legendText[i])
    .attr('y', 1182)
    .attr('textLength', (d, i) => legendWidth[i])
    .attr('lengthAdjust', 'spacingAndGlyphs')
    .style('font-size', '76px')
    .text(d => d);

svg.append('text')
    .attr('x', 2364).attr('y', 1364)
    .style('font-size', '72px')
    .html('(<tspan font-weight="bold">b</tspan>)');
</script>
</body>
</html>
